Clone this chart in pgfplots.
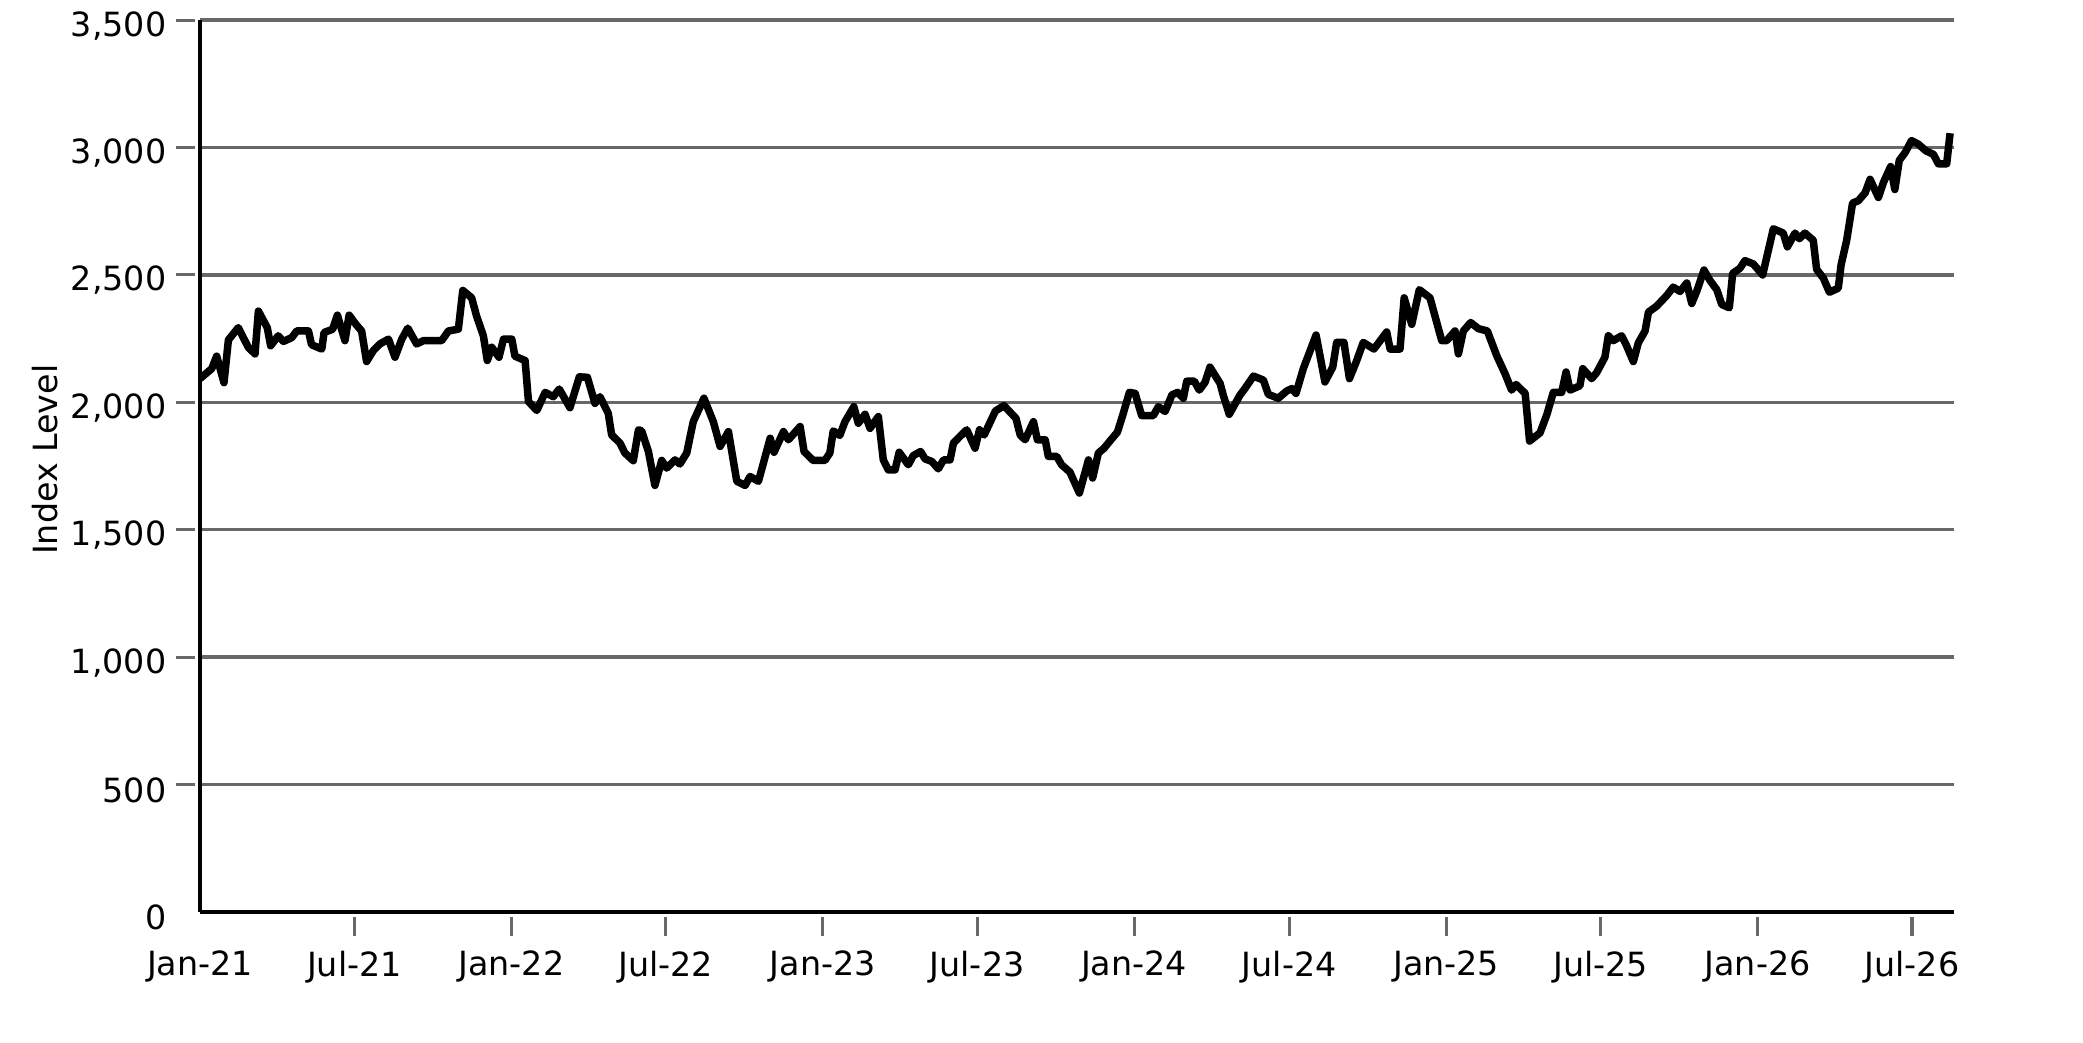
\documentclass[border=0pt]{standalone}
\usepackage{fontspec}
\setmainfont{DejaVu Sans}
\usepackage{pgfplots}
\pgfplotsset{compat=1.18}
\definecolor{gridgray}{RGB}{104,104,104}
\pgfplotstableread{
m v
0 2093
0.45 2132
0.64 2181
0.92 2077
1.09 2245
1.47 2293
1.85 2216
2.11 2190
2.24 2358
2.58 2293
2.71 2222
3.0 2261
3.2 2239
3.52 2254
3.71 2280
4.16 2280
4.28 2226
4.67 2209
4.76 2274
5.09 2287
5.27 2342
5.56 2242
5.72 2342
5.98 2306
6.2 2280
6.39 2160
6.65 2203
6.9 2229
7.23 2248
7.48 2177
7.74 2248
7.97 2291
8.31 2229
8.57 2242
9.27 2242
9.53 2280
9.91 2287
10.08 2439
10.42 2410
10.61 2338
10.87 2261
11.02 2164
11.19 2216
11.47 2177
11.64 2248
11.96 2248
12.08 2181
12.47 2164
12.6 2003
12.92 1968
13.24 2039
13.55 2022
13.78 2052
14.19 1979
14.55 2100
14.86 2098
15.15 1996
15.34 2022
15.66 1957
15.79 1872
16.11 1840
16.3 1801
16.62 1771
16.82 1892
16.94 1888
17.2 1807
17.45 1674
17.71 1772
17.9 1742
18.22 1774
18.41 1758
18.67 1801
18.92 1924
19.33 2016
19.69 1924
19.95 1827
20.27 1885
20.59 1690
20.91 1674
21.1 1709
21.42 1690
21.61 1761
21.87 1859
22.02 1804
22.38 1885
22.57 1853
23.02 1905
23.17 1807
23.52 1772
23.97 1772
24.16 1801
24.29 1888
24.54 1870
24.74 1924
25.08 1983
25.25 1918
25.51 1953
25.7 1898
26.02 1944
26.21 1774
26.4 1735
26.66 1735
26.82 1804
27.17 1755
27.36 1791
27.64 1807
27.81 1778
28.07 1768
28.32 1739
28.52 1774
28.77 1774
28.9 1840
29.15 1866
29.41 1892
29.73 1820
29.9 1892
30.08 1872
30.51 1966
30.84 1987
31.3 1937
31.46 1872
31.65 1853
31.97 1924
32.12 1853
32.42 1853
32.54 1788
32.86 1788
33.05 1755
33.37 1726
33.73 1644
34.08 1774
34.24 1703
34.46 1801
34.68 1820
34.91 1849
35.19 1883
35.39 1948
35.65 2039
35.87 2035
36.12 1948
36.57 1948
36.76 1983
37.02 1964
37.28 2029
37.5 2039
37.72 2016
37.85 2083
38.14 2083
38.33 2048
38.55 2078
38.74 2138
39.13 2074
39.25 2028
39.48 1953
39.89 2028
40.08 2054
40.41 2103
40.79 2087
40.98 2031
41.36 2016
41.68 2044
41.88 2054
42.04 2035
42.32 2132
42.81 2264
43.15 2080
43.45 2138
43.6 2235
43.88 2235
44.09 2093
44.37 2164
44.62 2235
45.03 2209
45.52 2276
45.65 2209
46.03 2209
46.19 2410
46.48 2306
46.77 2442
47.18 2410
47.63 2242
47.82 2242
48.14 2280
48.27 2190
48.46 2280
48.74 2313
49.04 2289
49.38 2280
49.74 2183
50.06 2112
50.31 2048
50.48 2070
50.83 2035
51.0 1848
51.4 1880
51.66 1951
51.91 2039
52.23 2039
52.4 2119
52.55 2048
52.93 2065
53.04 2132
53.38 2093
53.57 2116
53.89 2177
54.02 2261
54.21 2242
54.53 2261
54.72 2222
54.98 2160
55.17 2233
55.43 2280
55.56 2354
55.87 2377
56.26 2419
56.51 2452
56.77 2435
57.03 2468
57.22 2388
57.41 2435
57.69 2519
57.92 2478
58.18 2442
58.37 2384
58.66 2371
58.79 2506
59.07 2526
59.26 2556
59.58 2543
59.94 2500
60.35 2681
60.73 2664
60.89 2610
61.18 2664
61.35 2642
61.56 2664
61.88 2636
62.01 2522
62.27 2487
62.5 2432
62.84 2448
62.95 2540
63.16 2634
63.39 2782
63.61 2791
63.87 2822
64.06 2875
64.38 2804
64.57 2862
64.85 2925
65.01 2835
65.18 2949
65.4 2979
65.65 3027
65.91 3013
66.2 2987
66.49 2973
66.68 2936
67.0 2936
67.13 3056
}\idx
\begin{document}
\begin{tikzpicture}
\begin{axis}[
  at={(0,0)}, anchor=south west,
  scale only axis, width=631.44pt, height=321.1pt,
  xmin=0, xmax=67.28, ymin=0, ymax=3500,
  axis lines=left,
  axis line style={-, line width=1.2pt, black},
  ytick={500,1000,...,3500},
  extra y ticks={0},
  extra y tick style={grid=none, tick style={draw=none}},
  xtick={5.922,11.943,17.865,23.885,29.807,35.828,41.783,47.803,53.725,59.746,65.668},
  xticklabels={Jul-21,Jan-22,Jul-22,Jan-23,Jul-23,Jan-24,Jul-24,Jan-25,Jul-25,Jan-26,Jul-26},
  extra x ticks={0},
  extra x tick labels={Jan-21},
  extra x tick style={tick style={draw=none}},
  ymajorgrids,
  major grid style={gridgray, line width=1.2pt},
  tick align=outside,
  major tick length=7pt,
  major tick style={gridgray, line width=1.1pt},
  xtick style={yshift=-1.8pt},
  ytick style={xshift=-1.8pt},
  tick label style={font=\fontsize{12}{14}\selectfont},
  yticklabel style={yshift=-2pt, xshift=-1.6pt},
  xticklabel style={yshift=-3.6pt},
  /pgf/number format/1000 sep={,},
  /pgf/number format/assume math mode=true,
  ylabel={Index Level},
  every axis y label/.style={at={(axis description cs:-0.0886,0.507)}, rotate=90, anchor=center, font=\fontsize{12}{14}\selectfont},
]
\addplot[black, line width=2.7pt, line join=round, mark=none] table[x=m, y=v] {\idx};
\end{axis}
\path (-72pt,-46.8pt) rectangle (677.88pt,328.32pt);
\end{tikzpicture}
\end{document}
